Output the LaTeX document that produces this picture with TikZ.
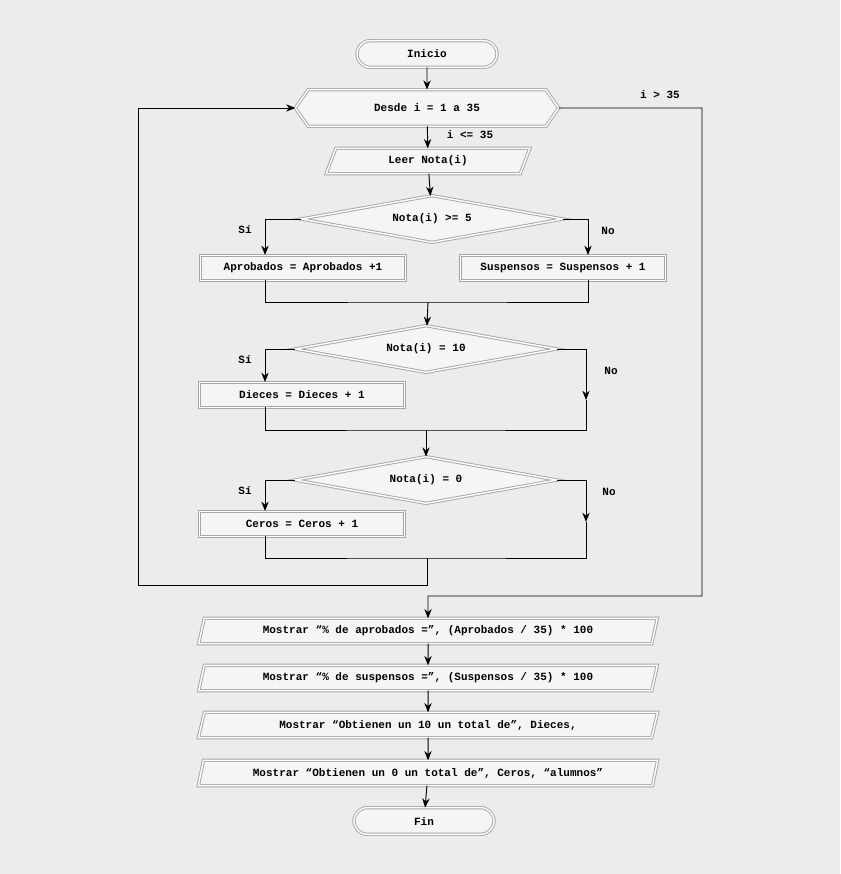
\documentclass[tikz,border=0pt]{standalone}
\usepackage{fontspec}
\setmonofont{Liberation Mono}
\usetikzlibrary{arrows.meta,shapes.geometric,shapes.misc,shapes.symbols}

\begin{document}
\begin{tikzpicture}[
	x = 0.03cm, y = -0.03cm,
	> = {Stealth[length=2.8mm,width=2.2mm]}, % arrow head style
	thick, % line style
	font=\ttfamily\bfseries\fontsize{9.4}{11}\selectfont,
	box/.style={draw=gray!70, double=white, double distance=1.2pt, fill=gray!8, inner sep=0pt, outer sep=0pt},
	T/.style={box, rounded rectangle, minimum width=4.2cm, minimum height=0.8cm},
	H/.style={box, signal, signal to=west and east, signal pointer angle=110, minimum width=7.9cm, minimum height=1.1cm},
	IO/.style={box, trapezium, trapezium left angle=68, trapezium right angle=112, trapezium stretches=true, minimum height=0.76cm},
	P/.style={box, rectangle, minimum width=6.15cm, minimum height=0.75cm},
	D/.style={box, diamond, aspect=5.7, minimum width=7.85cm, minimum height=1.4cm},
	lbl/.style={inner sep=1pt},
	]
	\fill[gray!15] (0,0) rectangle (840,874);

	% Loop head
	\node[T] (ini) at (427,54) {Inicio};
	\node[H] (des) at (427,108) {Desde i = 1 a 35};
	\node[IO, minimum width=6.15cm] (lee) at (428,161) {Leer Nota(i)};

	% First decision
	\node[D] (d1) at (432,219) {Nota(i) >= 5};
	\node[P] (apr) at (303,268) {Aprobados = Aprobados +1};
	\node[P] (sus) at (563,268) {Suspensos = Suspensos + 1};

	% Second decision
	\node[D] (d2) at (426,349) {Nota(i) = 10};
	\node[P] (die) at (302,395) {Dieces = Dieces + 1};

	% Third decision
	\node[D] (d3) at (426,480) {Nota(i) = 0};
	\node[P] (cer) at (302,524) {Ceros = Ceros + 1};

	% Output
	\node[IO, minimum width=13.8cm] (m1) at (428,631) {Mostrar “\% de aprobados =”, (Aprobados / 35) * 100};
	\node[IO, minimum width=13.8cm] (m2) at (428,678) {Mostrar “\% de suspensos =”, (Suspensos / 35) * 100};
	\node[IO, minimum width=13.8cm] (m3) at (428,725) {Mostrar “Obtienen un 10 un total de”, Dieces,};
	\node[IO, minimum width=13.8cm] (m4) at (428,773) {Mostrar “Obtienen un 0 un total de”, Ceros, “alumnos”};
	\node[T] (fin) at (424,821) {Fin};

	% Labels
	\node[lbl] (l1) at (660,95) {i > 35};
	\node[lbl] (l2) at (470,135) {i <= 35};
	\node[lbl] (s1) at (245,230) {Sí};
	\node[lbl] (n1) at (608,231) {No};
	\node[lbl] (s2) at (245,360) {Sí};
	\node[lbl] (n2) at (611,371) {No};
	\node[lbl] (s3) at (245,491) {Sí};
	\node[lbl] (n3) at (609,492) {No};

	% Merge points
	\coordinate (j1) at (428,302);
	\coordinate (j2) at (426,430);
	\coordinate (j3) at (427,558);
	\coordinate (j4) at (428,596);

	% Paths connecting nodes
	\draw[->] (ini) -- (des);
	\draw[->] (des) -- (lee);
	\draw[->] (lee) -- (d1);
	\draw[->] (d1.west) -| (265,255);
	\draw[->] (d1.east) -| (588,255);
	\draw (265,280) |- (j1) -| (588,280);
	\draw[->] (j1) -- (d2);
	\draw[->] (d2.west) -| (265,382);
	\draw[->] (d2.east) -| (586,400);
	\draw (265,407) |- (j2) -| (586,400);
	\draw[->] (j2) -- (d3);
	\draw[->] (d3.west) -| (265,511);
	\draw[->] (d3.east) -| (586,522);
	\draw (265,536) |- (j3) -| (586,522);
	\draw[->] (j3) -- (427,585) -- (138,585) |- (des.west);
	\draw[->] (des.east) -- (702,108) |- (j4) -- (m1);
	\draw[->] (m1) -- (m2);
	\draw[->] (m2) -- (m3);
	\draw[->] (m3) -- (m4);
	\draw[->] (m4) -- (fin);
\end{tikzpicture}
\end{document}
